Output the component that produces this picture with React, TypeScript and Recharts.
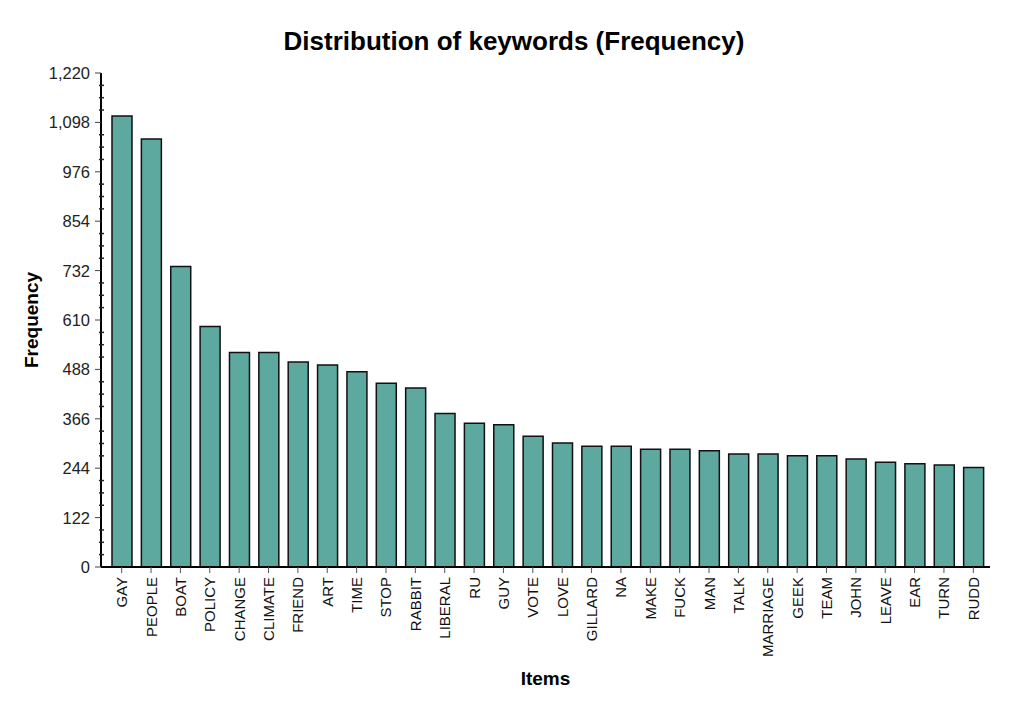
import React from 'react';
import { BarChart, Bar, XAxis, YAxis } from 'recharts';

const categories = ['GAY','PEOPLE','BOAT','POLICY','CHANGE','CLIMATE','FRIEND','ART','TIME','STOP','RABBIT','LIBERAL','RU','GUY','VOTE','LOVE','GILLARD','NA','MAKE','FUCK','MAN','TALK','MARRIAGE','GEEK','TEAM','JOHN','LEAVE','EAR','TURN','RUDD'];
const frequency = [1114,1057,742,594,530,530,506,499,482,454,442,379,355,351,323,306,298,298,291,291,287,279,279,275,275,267,259,255,252,246];
const majorTicks = [0,122,244,366,488,610,732,854,976,1098,1220];
const minorPerMajor = 4;

const data = categories.map((c, i) => ({ name: c, value: frequency[i] }));

const allTicks: number[] = [];
majorTicks.forEach((t, i) => {
  allTicks.push(t);
  if (i < majorTicks.length - 1) {
    const step = (majorTicks[i + 1] - t) / minorPerMajor;
    for (let k = 1; k < minorPerMajor; k++) allTicks.push(t + step * k);
  }
});

const FONT = '"Liberation Sans", Arial, sans-serif';

const XTick = (props: any) => {
  const { x, y, payload } = props;
  return (
    <text x={x} y={y} transform={`rotate(-90, ${x}, ${y})`} textAnchor="end" dominantBaseline="central"
      fontSize={15} fontFamily={FONT} fill="#111">{payload.value}</text>
  );
};

const YTick = (props: any) => {
  const { x, y, payload } = props;
  const major = majorTicks.includes(payload.value);
  const ax = x + 11;
  return (
    <g>
      {major
        ? <line x1={ax - 6} x2={ax} y1={y} y2={y} stroke="#444" strokeWidth={1} />
        : <line x1={ax - 2} x2={ax + 3} y1={y} y2={y} stroke="#222" strokeWidth={1.5} />}
      {major && (
        <text x={x} y={y} textAnchor="end" dominantBaseline="central" fontSize={16.5} fontFamily={FONT} fill="#222">
          {payload.value.toLocaleString('en-US')}
        </text>
      )}
    </g>
  );
};

export default function App() {
  return (
    <div style={{ position: 'relative', width: 1028, height: 708, margin: -8, background: '#fff', fontFamily: FONT }}>
      <div style={{ position: 'absolute', left: 0, top: 0, width: 1022, height: 703, borderRight: '2px solid #8c8c8c', borderBottom: '2px solid #8c8c8c', boxShadow: '1px 1px 2px #bbb' }} />
      <div style={{ position: 'absolute', left: 0, top: 26, width: 1028, height: 30, lineHeight: '30px', textAlign: 'center', fontSize: 26, fontWeight: 'bold', color: '#000' }}>
        Distribution of keywords (Frequency)
      </div>
      <div style={{ position: 'absolute', left: 0, top: 0 }}>
        <BarChart width={1028} height={708} data={data} margin={{ top: 73, right: 38, left: 11, bottom: 21 }}>
          <XAxis dataKey="name" interval={0} height={120} tick={<XTick />} tickSize={6} tickMargin={4}
            axisLine={{ stroke: '#000', strokeWidth: 2 }} tickLine={{ stroke: '#555' }}
            padding={{ left: 6, right: 2 }}
            label={{ value: 'Items', position: 'insideBottom', offset: 2, fontSize: 19, fontWeight: 'bold', fill: '#000', fontFamily: FONT }} />
          <YAxis domain={[0, 1220]} ticks={allTicks} interval={0} width={90} tick={<YTick />} tickSize={5} tickMargin={6}
            axisLine={{ stroke: '#000', strokeWidth: 2 }} tickLine={{ stroke: 'none' }} allowDataOverflow
            label={{ value: 'Frequency', angle: -90, position: 'insideLeft', offset: 20, fontSize: 19, fontWeight: 'bold', fill: '#000', fontFamily: FONT, style: { textAnchor: 'middle' } }} />
          <Bar dataKey="value" fill="#5da89f" stroke="#111" strokeWidth={1.5} barSize={20} isAnimationActive={false} />
        </BarChart>
      </div>
    </div>
  );
}
